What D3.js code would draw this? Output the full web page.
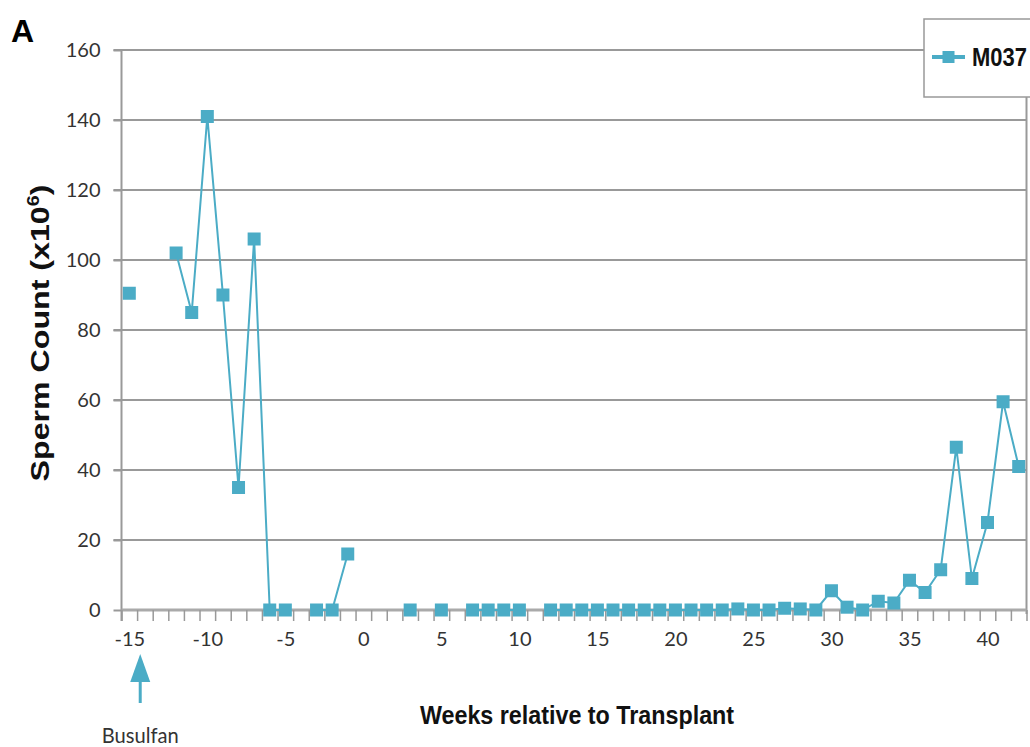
<!DOCTYPE html>
<html>
<head>
<meta charset="utf-8">
<script src="https://cdn.jsdelivr.net/npm/d3@7"></script>
<style>
body { margin: 0; background: #fff; }
svg { display: block; }
</style>
</head>
<body>
<svg id="chart" width="1030" height="747"></svg>
<script>
// weeks relative to transplant (categories) and sperm count x10^6, null = no sample
var weeks = [-15, -14, -13, -12, -11, -10, -9, -8, -7, -6, -5, -4, -3, -2, -1, 0, 1, 2, 3, 4,
	5, 6, 7, 8, 9, 10, 11, 12, 13, 14, 15, 16, 17, 18, 19, 20, 21, 22, 23, 24,
	25, 26, 27, 28, 29, 30, 31, 32, 33, 34, 35, 36, 37, 38, 39, 40, 41, 42];
var counts = [90.5, null, null, 102, 85, 141, 90, 35, 106, 0, 0, null, 0, 0, 16, null, null, null, 0, null,
	0, null, 0, 0, 0, 0, null, 0, 0, 0, 0, 0, 0, 0, 0, 0, 0, 0, 0, 0.3,
	0, 0, 0.5, 0.3, 0, 5.5, 0.8, 0, 2.5, 2, 8.5, 5, 11.5, 46.5, 9, 25, 59.5, 41];
var yTicks = [0, 20, 40, 60, 80, 100, 120, 140, 160];
var xLabels = [-15, -10, -5, 0, 5, 10, 15, 20, 25, 30, 35, 40];
var seriesName = "M037";

var color = "#4bacc6",
	gridColor = "#999999",
	tickFont = "Lato, 'Open Sans', sans-serif",
	boldFont = "'Liberation Sans', Arial, sans-serif";

var svg = d3.select("#chart");
var plot = { left: 121.5, right: 1026.5, top: 50, bottom: 610 };

var x = d3.scaleLinear().domain([-15.5, 42.5]).range([plot.left, plot.right]);
var y = d3.scaleLinear().domain([0, 160]).range([plot.bottom, plot.top]);

var data = weeks.map((w, i) => ({ week: w, value: counts[i] }));

// gridlines
svg.append("g")
	.attr("class", "grid")
	.selectAll("line")
	.data(yTicks.filter(d => d > 0))
	.enter().append("line")
	.attr("x1", plot.left - 8)
	.attr("x2", plot.right)
	.attr("y1", d => y(d))
	.attr("y2", d => y(d))
	.attr("stroke", gridColor)
	.attr("stroke-width", 2);

// y axis
var yAxis = svg.append("g")
	.attr("class", "yAxis")
	.attr("transform", `translate(${plot.left}, 0)`)
	.call(d3.axisLeft(y).tickValues(yTicks).tickSize(8).tickPadding(13));
yAxis.select(".domain")
	.attr("d", `M0,${plot.top}V${plot.bottom + 11}`)
	.attr("stroke", gridColor)
	.attr("stroke-width", 2);
yAxis.selectAll(".tick line").attr("stroke", gridColor).attr("stroke-width", 2);
yAxis.selectAll(".tick text")
	.attr("font-family", tickFont)
	.attr("font-size", "20px")
	.attr("fill", "#333");

// right border of plot
svg.append("line")
	.attr("x1", plot.right).attr("x2", plot.right)
	.attr("y1", plot.top).attr("y2", plot.bottom + 4)
	.attr("stroke", gridColor)
	.attr("stroke-width", 2);

// x axis: tick marks between categories, labels every 5 weeks
var boundaries = weeks.map(w => w - 0.5).concat([weeks[weeks.length - 1] + 0.5]);
var xAxis = svg.append("g")
	.attr("class", "xAxis")
	.attr("transform", `translate(0, ${plot.bottom})`)
	.call(d3.axisBottom(x).tickValues(boundaries).tickSize(11).tickFormat(""));
xAxis.select(".domain")
	.attr("d", `M${plot.left},0H${plot.right}`)
	.attr("stroke", "#aaaaaa")
	.attr("stroke-width", 3);
xAxis.selectAll(".tick line").attr("stroke", gridColor).attr("stroke-width", 1.5);

var xLab = svg.append("g")
	.attr("transform", `translate(0, ${plot.bottom})`)
	.call(d3.axisBottom(x).tickValues(xLabels).tickSize(0).tickPadding(22).tickFormat(d => String(d)));
xLab.select(".domain").remove();
xLab.selectAll(".tick text")
	.attr("font-family", tickFont)
	.attr("font-size", "20px")
	.attr("fill", "#333");

// series line with gaps where no sample was taken
var line = d3.line()
	.defined(d => d.value !== null)
	.x(d => x(d.week))
	.y(d => y(d.value));

svg.append("path")
	.datum(data)
	.attr("fill", "none")
	.attr("stroke", color)
	.attr("stroke-width", 2)
	.attr("d", line);

var ms = 13;
svg.selectAll(".marker")
	.data(data.filter(d => d.value !== null))
	.enter().append("rect")
	.attr("class", "marker")
	.attr("x", d => x(d.week) - ms / 2)
	.attr("y", d => y(d.value) - ms / 2)
	.attr("width", ms)
	.attr("height", ms)
	.attr("fill", color);

// legend
var legend = svg.append("g").attr("class", "legend");
legend.append("rect")
	.attr("x", 924).attr("y", 19)
	.attr("width", 140).attr("height", 78)
	.attr("fill", "#fff")
	.attr("stroke", gridColor)
	.attr("stroke-width", 1.5);
legend.append("line")
	.attr("x1", 932).attr("x2", 965)
	.attr("y1", 57).attr("y2", 57)
	.attr("stroke", color)
	.attr("stroke-width", 4);
legend.append("rect")
	.attr("x", 948.5 - 6).attr("y", 57 - 6)
	.attr("width", 12).attr("height", 12)
	.attr("fill", color);
var legText = legend.append("text")
	.attr("font-family", boldFont)
	.attr("font-weight", "bold")
	.attr("font-size", "26px")
	.attr("fill", "#111")
	.text(seriesName);
legText.attr("transform", `translate(972, 66) scale(${fitText(legText, 55)}, 1)`);

// panel letter
svg.append("text")
	.attr("x", 11).attr("y", 42)
	.attr("font-family", boldFont)
	.attr("font-weight", "bold")
	.attr("font-size", "32px")
	.attr("fill", "#000")
	.text("A");

// stretch a text to a given length along its own direction
function fitText(t, len) {
	let w = t.node().getBBox().width;
	return len / w;
}

// y title
var yTitle = svg.append("text")
	.attr("font-family", boldFont)
	.attr("font-weight", "bold")
	.attr("font-size", "26px")
	.attr("text-anchor", "middle")
	.attr("fill", "#111");
yTitle.append("tspan").text("Sperm Count (x10");
yTitle.append("tspan").attr("font-size", "16px").attr("dy", "-10").text("6");
yTitle.append("tspan").attr("dy", "10").text(")");
var sy = fitText(yTitle, 297);
yTitle.attr("transform", `translate(49, 333) rotate(-90) scale(${sy}, 1)`);

// x title
var xTitle = svg.append("text")
	.attr("font-family", boldFont)
	.attr("font-weight", "bold")
	.attr("font-size", "25px")
	.attr("text-anchor", "middle")
	.attr("fill", "#111")
	.text("Weeks relative to Transplant");
var sx = fitText(xTitle, 315);
xTitle.attr("transform", `translate(577, 724) scale(${sx}, 1)`);

// Busulfan arrow
var ax = x(-14.3);
svg.append("line")
	.attr("x1", ax).attr("x2", ax)
	.attr("y1", 678).attr("y2", 703)
	.attr("stroke", color)
	.attr("stroke-width", 3);
svg.append("path")
	.attr("d", `M${ax},654L${ax + 10},682L${ax - 10},682Z`)
	.attr("fill", color);
var bus = svg.append("text")
	.attr("text-anchor", "middle")
	.attr("font-family", tickFont)
	.attr("font-size", "21px")
	.attr("fill", "#333")
	.text("Busulfan");
bus.attr("transform", `translate(${ax}, 743) scale(${fitText(bus, 77)}, 1)`);
</script>
</body>
</html>
